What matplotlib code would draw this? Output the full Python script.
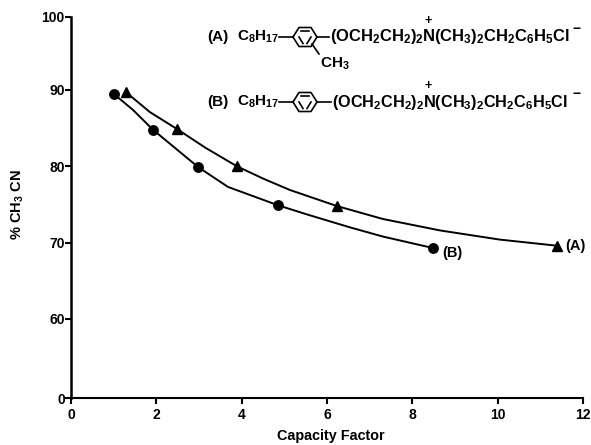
import numpy as np
import matplotlib
matplotlib.use("Agg")
import matplotlib.pyplot as plt
from matplotlib.lines import Line2D

plt.rcParams['font.family'] = ['Liberation Sans', 'DejaVu Sans']
plt.rcParams['font.weight'] = 'bold'
plt.rcParams['mathtext.fontset'] = 'custom'
plt.rcParams['mathtext.rm'] = 'Liberation Sans:bold'
plt.rcParams['mathtext.default'] = 'rm'

# measured points
a_x = [1.29, 2.48, 3.89, 6.23, 11.39]
a_y = [89.7, 84.9, 80.0, 74.8, 69.6]
b_x = [1.0, 1.92, 2.98, 4.85, 8.48]
b_y = [89.5, 84.8, 79.9, 74.9, 69.3]

# curve traces
a_curve_x = [1.29, 1.85, 2.48, 3.16, 3.89, 4.5, 5.13, 6.23, 7.31, 8.65, 10.05, 11.39]
a_curve_y = [89.7, 87.1, 84.9, 82.4, 80.0, 78.4, 76.9, 74.8, 73.1, 71.6, 70.4, 69.6]
b_curve_x = [1.0, 1.45, 1.92, 2.98, 3.68, 4.85, 5.53, 6.54, 7.31, 8.48]
b_curve_y = [89.5, 87.4, 84.8, 79.9, 77.3, 74.9, 73.7, 72.0, 70.8, 69.3]

x_ticks = [0, 2, 4, 6, 8, 10, 12]
y_tick_positions = [49.65, 60, 70, 80, 90, 99.56]   # axis is broken below 60
y_tick_labels = ['0', '60', '70', '80', '90', '100']

W, H = 591, 445
fig = plt.figure(figsize=(W / 100, H / 100), dpi=100)
ax = fig.add_axes([71 / W, 1 - 398 / H, (583 - 71) / W, (398 - 17) / H])
ax.set_xlim(0, 12)
ax.set_ylim(49.65, 99.56)

ax.plot(a_curve_x, a_curve_y, color='black', lw=1.4, solid_joinstyle='round')
ax.plot(b_curve_x, b_curve_y, color='black', lw=1.4, solid_joinstyle='round')
ax.plot(a_x, a_y, ls='none', marker='^', ms=7, color='black')
ax.plot(b_x, b_y, ls='none', marker='o', ms=6.8, color='black')

ax.spines['top'].set_visible(False)
ax.spines['right'].set_visible(False)
ax.spines['left'].set_linewidth(1.8)
ax.spines['bottom'].set_linewidth(1.5)
ax.set_xticks(x_ticks)
ax.set_yticks(y_tick_positions)
ax.set_yticklabels(y_tick_labels)
ax.tick_params(axis='x', length=4, width=1.5, labelsize=10, pad=3)
ax.tick_params(axis='y', length=4, width=1.5, labelsize=10, pad=0.5)


def ptext(x, y, s, size=10.5, **kw):
    kw.setdefault('va', 'center')
    kw.setdefault('ha', 'left')
    return fig.text(x / W, 1 - y / H, s, fontsize=size, fontweight='bold', **kw)


def pline(xs, ys, lw=1.2):
    fig.add_artist(Line2D(np.array(xs) / W, 1 - np.array(ys) / H, color='black', lw=lw,
                          transform=fig.transFigure))


def ring(cx, cy, r=12, rh=9.5):
    xs = [cx - r, cx - r / 2, cx + r / 2, cx + r, cx + r / 2, cx - r / 2, cx - r]
    ys = [cy, cy - rh, cy - rh, cy, cy + rh, cy + rh, cy]
    pline(xs, ys)
    pline([cx - r / 2 + 2, cx + r / 2 - 2], [cy - rh + 3, cy - rh + 3])
    pline([cx - r / 2, cx - 2], [cy, cy + rh - 3])
    pline([cx + 2, cx + r / 2], [cy + rh - 3, cy])


chain = r'$\mathrm{(OCH_2CH_2)_2N(CH_3)_2CH_2C_6H_5Cl}$'
for row_y, label, plus_x, minus_x, chain_x, chain_size in [
        (37, '(A)', 428, 577, 330, 11.9), (102, '(B)', 428, 577, 332, 11.7)]:
    ptext(207, row_y, label, size=11)
    ptext(237, row_y, r'$\mathrm{C_8H_{17}}$', size=11)
    pline([279, 293], [row_y, row_y])
    ring(305, row_y)
    pline([317, chain_x - 1], [row_y, row_y])
    ptext(chain_x, row_y, chain, size=chain_size)
    ptext(plus_x, row_y - 16, '+', size=9, ha='center')
    ptext(minus_x, row_y - 8, '\u2212', size=10, ha='center')
pline([312, 319], [44, 54])
ptext(320, 64, r'$\mathrm{CH_3}$', size=11)

ptext(565, 246, '(A)')
ptext(442, 253, '(B)')
ptext(331, 436, 'Capacity Factor', size=10.4, ha='center')
ptext(18, 205, r'% $\mathrm{CH_3}$ CN', size=10.5, ha='center', rotation=90)

fig.savefig('out.png', dpi=100)
